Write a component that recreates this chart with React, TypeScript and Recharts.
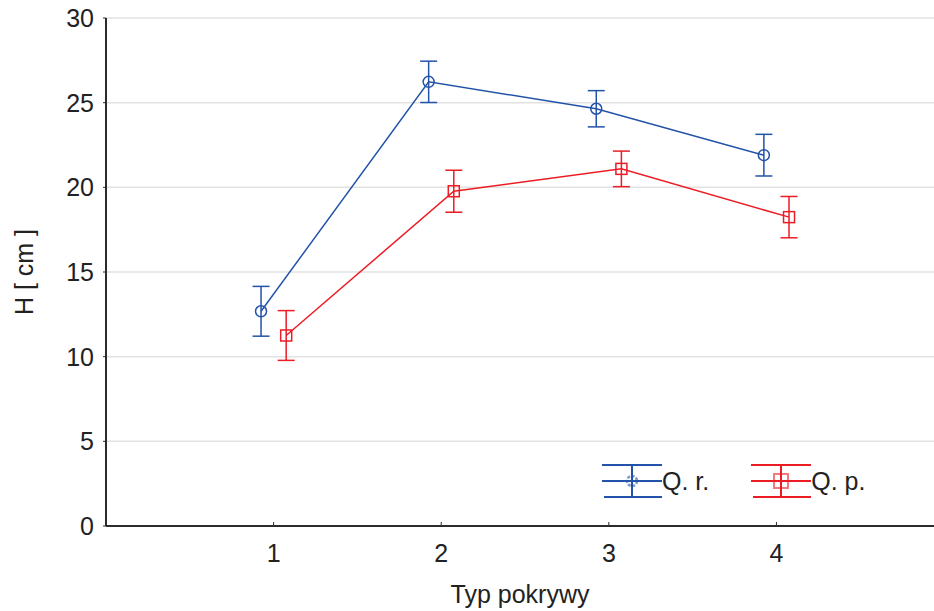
import React from "react"
import { ComposedChart, Line, XAxis, YAxis, CartesianGrid, ErrorBar } from "recharts"

const categories = [1, 2, 3, 4]
const qrMean = [12.68, 26.23, 24.64, 21.9]
const qrErr = [1.47, 1.22, 1.07, 1.23]
const qpMean = [11.25, 19.77, 21.09, 18.24]
const qpErr = [1.47, 1.24, 1.05, 1.22]
const yTicks = [0, 5, 10, 15, 20, 25, 30]

const BLUE = "#2353a8"
const RED = "#ec1c24"
const AXIS = "#2b2b2b"
const FONT = "'Liberation Sans', Arial, sans-serif"
const SHIFT = 0.075

const qrData = categories.map((c, i) => ({ x: c - SHIFT, y: qrMean[i], err: qrErr[i] }))
const qpData = categories.map((c, i) => ({ x: c + SHIFT, y: qpMean[i], err: qpErr[i] }))

const CircleDot = (p: any) => (
  <circle key={p.index} cx={p.cx} cy={p.cy} r={5.5} fill="none" stroke={BLUE} strokeWidth={1.5} />
)
const SquareDot = (p: any) => (
  <rect key={p.index} x={p.cx - 5.5} y={p.cy - 5.5} width={11} height={11} fill="none" stroke={RED} strokeWidth={1.5} />
)

function LegendIcon({ color, square }: { color: string; square?: boolean }) {
  return (
    <svg width={60} height={36} style={{ display: "block" }}>
      <line x1={0} x2={60} y1={2} y2={2} stroke={color} strokeWidth={2} />
      <line x1={2} x2={60} y1={34} y2={34} stroke={color} strokeWidth={2} />
      <line x1={0} x2={60} y1={18} y2={18} stroke={color} strokeWidth={2} />
      <line x1={30} x2={30} y1={2} y2={34} stroke={color} strokeWidth={2} />
      {square ? (
        <rect x={23} y={11} width={14} height={14} fill="none" stroke={color} strokeOpacity={0.6} strokeWidth={2} />
      ) : (
        <circle cx={30} cy={18} r={5} fill="none" stroke={color} strokeOpacity={0.6} strokeWidth={2.5} strokeDasharray="3 1.5" />
      )}
    </svg>
  )
}

function LegendBox() {
  const txt: React.CSSProperties = { fontFamily: FONT, fontSize: 25, color: "#222", lineHeight: "36px" }
  return (
    <div style={{ position: "absolute", left: 602, top: 463, display: "flex", alignItems: "center" }}>
      <LegendIcon color={BLUE} />
      <span style={{ ...txt, marginRight: 42 }}>Q. r.</span>
      <LegendIcon color={RED} square />
      <span style={txt}>Q. p.</span>
    </div>
  )
}

export default function App() {
  const tick = { fontFamily: FONT, fontSize: 25, fill: "#222" }
  return (
    <div style={{ position: "absolute", left: 0, top: 0, width: 934, height: 611, background: "#fff" }}>
      <ComposedChart width={934} height={611} margin={{ top: 18, right: 0, bottom: 0, left: 0 }}>
        <CartesianGrid vertical={false} stroke="#e2e2e2" strokeWidth={1.5} />
        <XAxis
          xAxisId="top"
          orientation="top"
          type="number"
          domain={[0, 4.94]}
          ticks={categories}
          allowDataOverflow
          height={0}
          tick={false}
          tickSize={-4}
          axisLine={{ stroke: AXIS, strokeWidth: 2 }}
          tickLine={{ stroke: AXIS }}
        />
        <XAxis
          dataKey="x"
          type="number"
          domain={[0, 4.94]}
          ticks={categories}
          allowDataOverflow
          height={85}
          tick={tick}
          tickSize={-4}
          tickMargin={22}
          axisLine={{ stroke: AXIS, strokeWidth: 2 }}
          tickLine={{ stroke: AXIS }}
          label={{
            content: (p: any) => (
              <text x={p.viewBox.x + p.viewBox.width / 2} y={603} textAnchor="middle" style={tick} fill="#222">
                Typ pokrywy
              </text>
            ),
          }}
        />
        <YAxis
          type="number"
          domain={[0, 30]}
          ticks={yTicks}
          width={106}
          tick={tick}
          tickSize={3}
          tickMargin={9}
          axisLine={{ stroke: AXIS, strokeWidth: 2 }}
          tickLine={{ stroke: AXIS }}
          label={{
            content: (p: any) => {
              const cy = p.viewBox.y + p.viewBox.height / 2
              return (
                <text x={33} y={cy} transform={`rotate(-90 33 ${cy})`} textAnchor="middle" style={tick} fill="#222">
                  H [ cm ]
                </text>
              )
            },
          }}
        />
        <Line
          data={qrData}
          dataKey="y"
          name="Q. r."
          stroke={BLUE}
          strokeWidth={1.5}
          dot={CircleDot}
          activeDot={false}
          isAnimationActive={false}
        >
          <ErrorBar dataKey="err" direction="y" width={8.5} stroke={BLUE} strokeWidth={1.5} isAnimationActive={false} />
        </Line>
        <Line
          data={qpData}
          dataKey="y"
          name="Q. p."
          stroke={RED}
          strokeWidth={1.5}
          dot={SquareDot}
          activeDot={false}
          isAnimationActive={false}
        >
          <ErrorBar dataKey="err" direction="y" width={8.5} stroke={RED} strokeWidth={1.5} isAnimationActive={false} />
        </Line>
      </ComposedChart>
      <LegendBox />
    </div>
  )
}
